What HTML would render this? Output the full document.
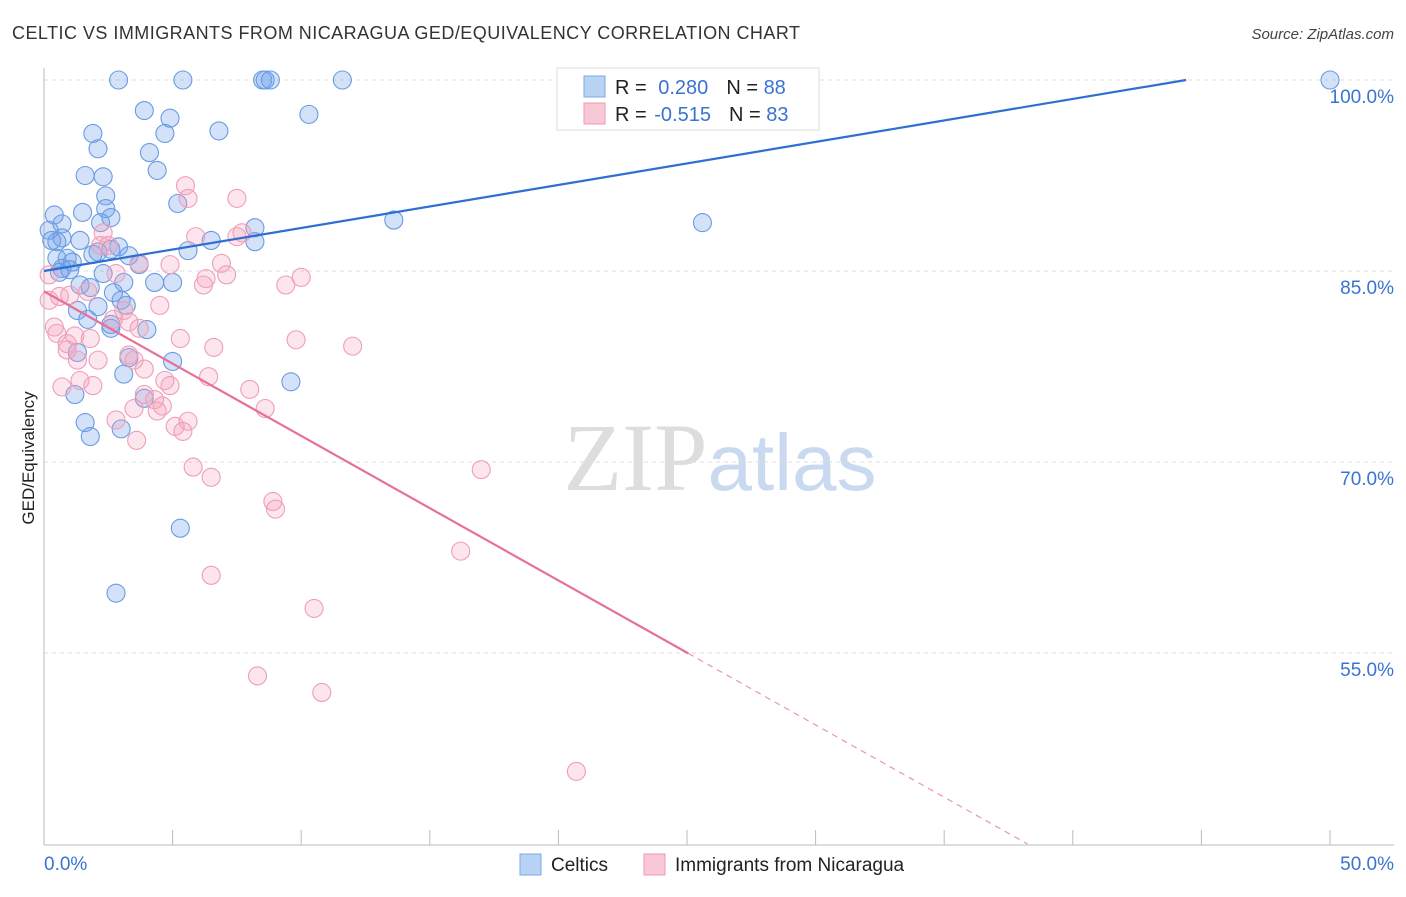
<!DOCTYPE html>
<html><head><meta charset="utf-8"><style>
body{margin:0;background:#fff;font-family:"Liberation Sans",sans-serif;}
svg text{font-family:"Liberation Sans",sans-serif;}
</style></head><body>
<svg id="chart" width="1406" height="892" xmlns="http://www.w3.org/2000/svg">
<text x="12" y="39" font-size="18" fill="#333" textLength="788" lengthAdjust="spacing">CELTIC VS IMMIGRANTS FROM NICARAGUA GED/EQUIVALENCY CORRELATION CHART</text>
<text x="1394" y="39" font-size="15" fill="#444" text-anchor="end" font-style="italic">Source: ZipAtlas.com</text>
<text x="720" y="490" font-size="96" text-anchor="middle"><tspan fill="#ddd" font-family="Liberation Serif">ZIP</tspan><tspan fill="#c9daf0" font-size="80">atlas</tspan></text>
<text transform="translate(34,458) rotate(-90)" font-size="17" fill="#222" text-anchor="middle">GED/Equivalency</text>
<g id="grid"></g><g id="axes"></g><g id="pts"></g><g id="lines"></g>
<g>
<rect x="557" y="68" width="262" height="62" fill="#fff" stroke="#ddd"/>
<rect x="584" y="76" width="21" height="21" fill="#b9d3f5" stroke="#7ea9e6"/>
<rect x="584" y="103" width="21" height="21" fill="#f9c8d6" stroke="#ee9ab5"/>
<text x="615" y="94" font-size="20" fill="#222">R = <tspan fill="#3a73d0" dx="6">0.280</tspan><tspan fill="#222" dx="18">N = </tspan><tspan fill="#3a73d0">88</tspan></text>
<text x="615" y="121" font-size="20" fill="#222">R = <tspan fill="#3a73d0" dx="2">-0.515</tspan><tspan fill="#222" dx="18">N = </tspan><tspan fill="#3a73d0">83</tspan></text>
</g>
<g>
<rect x="520" y="854" width="21" height="21" fill="#b9d3f5" stroke="#7ea9e6"/>
<text x="551" y="871" font-size="19" fill="#222">Celtics</text>
<rect x="644" y="854" width="21" height="21" fill="#f9c8d6" stroke="#ee9ab5"/>
<text x="675" y="871" font-size="19" fill="#222">Immigrants from Nicaragua</text>
</g>
</svg>
<script>
const yTicks=[100,85,70,55];
const xTickLabels=["0.0%","50.0%"];
const blueX=[2.9,5.4,8.5,8.6,8.8,11.6,50,3.9,4.9,10.3,1.9,4.7,6.8,2.1,4.1,4.4,1.6,2.3,2.4,5.2,0.4,1.5,2.4,2.6,0.7,2.2,13.6,25.6,8.2,0.2,0.7,1.4,0.3,0.5,6.5,8.2,2.9,5.6,2.1,1.9,3.3,2.6,0.5,0.9,1.1,0.7,0.6,1.0,2.3,3.7,4.3,5.0,3.1,1.4,1.8,2.7,3.0,3.2,2.1,1.3,1.7,2.6,2.6,4.0,1.3,3.3,5.0,3.1,9.6,1.2,3.9,1.6,3.0,1.8,5.3,2.8];
const blueY=[100,100,100,100,100,100,100,97.6,97.0,97.3,95.8,95.8,96.0,94.6,94.3,92.9,92.5,92.4,90.9,90.3,89.4,89.6,89.9,89.2,88.7,88.8,89.0,88.8,88.4,88.2,87.6,87.4,87.4,87.3,87.4,87.3,86.9,86.6,86.5,86.3,86.2,86.7,86.0,86.0,85.7,85.2,84.9,85.1,84.8,85.5,84.1,84.1,84.1,83.9,83.7,83.3,82.7,82.3,82.2,81.9,81.2,80.8,80.5,80.4,78.6,78.2,77.9,76.9,76.3,75.3,75.0,73.1,72.6,72.0,64.8,59.7];
const pinkX=[5.5,5.6,7.5,2.3,5.9,7.5,7.7,2.2,2.5,3.7,4.9,6.9,2.8,6.3,6.2,7.1,9.4,10.0,0.2,0.2,0.6,1.0,1.7,4.5,3.1,3.3,2.7,0.4,0.5,1.2,1.8,0.9,0.9,3.7,5.3,9.8,12.0,6.6,3.3,1.3,2.1,3.5,3.9,6.4,1.4,0.7,1.9,4.7,4.9,8.0,3.9,4.3,4.6,3.5,8.6,4.4,5.6,5.1,5.4,2.8,3.6,5.8,6.5,17.0,8.9,9.0,16.2,6.5,10.5,8.3,10.8,20.7];
const pinkY=[91.7,90.7,90.7,88.0,87.7,87.7,88.0,87.0,87.0,85.6,85.5,85.6,84.8,84.4,83.9,84.7,83.9,84.5,84.7,82.7,83.0,83.1,83.4,82.3,81.9,81.0,81.2,80.6,80.1,79.9,79.7,79.3,78.8,80.5,79.7,79.6,79.1,79.0,78.4,78.0,78.0,78.0,77.3,76.7,76.4,75.9,76.0,76.4,76.0,75.7,75.3,74.9,74.4,74.2,74.2,74.0,73.2,72.8,72.4,73.3,71.7,69.6,68.8,69.4,66.9,66.3,63.0,61.1,58.5,53.2,51.9,45.7];
const blueTrend=[85.0,0.3378];
const pinkTrend=[83.4,-1.135];
const NS="http://www.w3.org/2000/svg";
const X=v=>44+v*25.72, Y=v=>80+(100-v)*12.733;
function mk(t,a,p){const e=document.createElementNS(NS,t);for(const k in a)e.setAttribute(k,a[k]);document.getElementById(p).appendChild(e);return e;}
yTicks.forEach((t,i)=>{
 const g=mk('line',{x1:44,x2:1394,y1:Y(t),y2:Y(t),stroke:'#ddd','stroke-dasharray':'4,4'},'grid');
 
 
 const l=mk('text',{x:1394,y:Y(t)+23,'font-size':19,fill:'#3a73d0','text-anchor':'end'},'axes');
 l.textContent=t.toFixed(1)+'%';
 
 
});
const ax=mk('line',{x1:44,x2:44,y1:68,y2:845,stroke:'#bbb'},'axes');


const bx=mk('line',{x1:44,x2:1394,y1:845,y2:845,stroke:'#bbb'},'axes');


for(let i=0;i<=10;i++){const t=mk('line',{x1:X(i*5),x2:X(i*5),y1:830,y2:845,stroke:'#bbb'},'axes');
 
 }
xTickLabels.forEach((s,i)=>{const t=mk('text',{x:i?1394:44,y:870,'font-size':19,fill:'#3a73d0','text-anchor':i?'end':'start'},'axes');t.textContent=s;
 
 });
blueX.forEach((x,i)=>{const c=mk('circle',{cx:X(x),cy:Y(blueY[i]),r:9,fill:'rgba(110,160,235,0.3)',stroke:'#6a9be0','stroke-width':1.1},'pts');
 
 });
pinkX.forEach((x,i)=>{const c=mk('circle',{cx:X(x),cy:Y(pinkY[i]),r:9,fill:'rgba(245,160,185,0.28)',stroke:'#ef9db9','stroke-width':1.1},'pts');
 
 });
const bxEnd=(100-blueTrend[0])/blueTrend[1];
const bl=mk('line',{x1:X(0),y1:Y(blueTrend[0]),x2:X(bxEnd),y2:Y(100),stroke:'#2f6fd0','stroke-width':2.2},'lines');


const pSolid=25.05, pEnd=(40-pinkTrend[0])/pinkTrend[1];
const pl=mk('line',{x1:X(0),y1:Y(pinkTrend[0]),x2:X(pSolid),y2:Y(pinkTrend[0]+pinkTrend[1]*pSolid),stroke:'#e6709a','stroke-width':2.2},'lines');


const pd=mk('line',{x1:X(pSolid),y1:Y(pinkTrend[0]+pinkTrend[1]*pSolid),x2:X(pEnd),y2:Y(40),stroke:'#ec94b2','stroke-width':1.2,'stroke-dasharray':'6,5'},'lines');


</script>
</body></html>
